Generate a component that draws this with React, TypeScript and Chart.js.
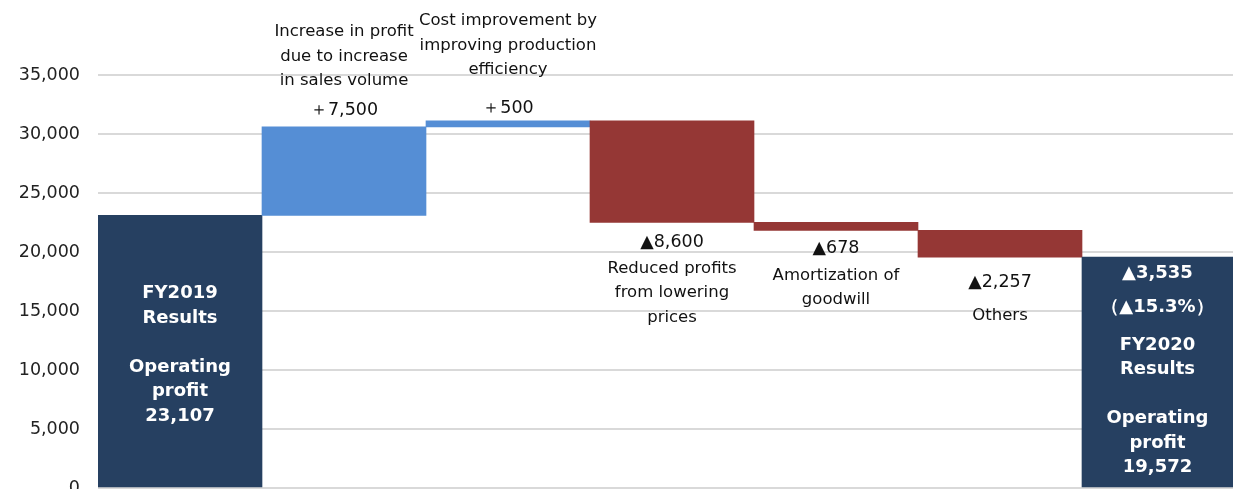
import React, { useEffect, useRef } from "react";
import { Chart, registerables } from "chart.js";

Chart.register(...registerables);

// ---------- data ----------
const categories = [
  "FY2019 Results",
  "Increase in profit due to increase in sales volume",
  "Cost improvement by improving production efficiency",
  "Reduced profits from lowering prices",
  "Amortization of goodwill",
  "Others",
  "FY2020 Results",
];
const startTotal = 23107;
const changes = [7500, 500, -8600, -678, -2257];
const endTotal = 19572;
const yTickValues = [0, 5000, 10000, 15000, 20000, 25000, 30000, 35000];

const valueLabels = ["", "＋7,500", "＋500", "▲8,600", "▲678", "▲2,257", ""];
const descLines: string[][] = [
  [],
  ["Increase in profit", "due to increase", "in sales volume"],
  ["Cost improvement by", "improving production", "efficiency"],
  ["Reduced profits", "from lowering", "prices"],
  ["Amortization of", "goodwill"],
  ["Others"],
  [],
];
const totalLines: string[][] = [
  ["FY2019", "Results", "", "Operating", "profit", "23,107"],
  [],
  [],
  [],
  [],
  [],
  ["FY2020", "Results", "", "Operating", "profit", "19,572"],
];
const totalChangeLines = ["▲3,535", "（▲15.3%）"];

// ---------- styles / layout ----------
const NAVY = "#264061";
const BLUE = "#558ED5";
const RED = "#953735";
const FONT = "'DejaVu Sans', Verdana, sans-serif";
const VIEW_W = 1233;
const CANVAS_W = 1260;
const CANVAS_H = 510;
// pixel offsets for annotation text (relative to bar top for rises, bar bottom for falls)
const valueOffset = [0, -16, -12, 20, 18, 25, 0];
const descOffset = [0, -46, -51, 46, 45, 59, 0];
const LINE_H = 24.5;
const totalBlockOffset = [78, 0, 0, 0, 0, 0, 88];
const totalChangeOffsets = [16, 50];

// build floating bars from the values
function buildBars(): [number, number][] {
  const bars: [number, number][] = [[0, startTotal]];
  let level = startTotal;
  for (const c of changes) {
    const next = level + c;
    bars.push([Math.min(level, next), Math.max(level, next)]);
    level = next;
  }
  bars.push([0, endTotal]);
  return bars;
}

const barColors = [NAVY, ...changes.map((c) => (c >= 0 ? BLUE : RED)), NAVY];

const annotationPlugin = {
  id: "waterfallLabels",
  afterDatasetsDraw(chart: any) {
    const ctx = chart.ctx as CanvasRenderingContext2D;
    const meta = chart.getDatasetMeta(0);
    ctx.save();
    ctx.textAlign = "center";
    ctx.textBaseline = "middle";
    meta.data.forEach((bar: any, i: number) => {
      const top = Math.min(bar.y, bar.base);
      const bottom = Math.max(bar.y, bar.base);
      const left = bar.x - bar.width / 2;
      const right = Math.min(bar.x + bar.width / 2, VIEW_W);
      const cx = (left + right) / 2;
      const isTotal = i === 0 || i === categories.length - 1;
      if (isTotal) {
        ctx.fillStyle = "#ffffff";
        ctx.font = `bold 18px ${FONT}`;
        if (i === categories.length - 1) {
          totalChangeLines.forEach((t, k) => ctx.fillText(t, cx, top + totalChangeOffsets[k]));
        }
        totalLines[i].forEach((t, k) => {
          if (t) ctx.fillText(t, cx, top + totalBlockOffset[i] + k * LINE_H);
        });
        return;
      }
      const rising = changes[i - 1] >= 0;
      ctx.fillStyle = "#111111";
      ctx.font = `17.5px ${FONT}`;
      if (rising) {
        ctx.fillText(valueLabels[i], cx, top + valueOffset[i]);
        ctx.font = `16.5px ${FONT}`;
        const lines = descLines[i];
        lines.forEach((t, k) => {
          const y = top + descOffset[i] - (lines.length - 1 - k) * LINE_H;
          ctx.fillText(t, cx, y);
        });
      } else {
        ctx.fillText(valueLabels[i], cx, bottom + valueOffset[i]);
        ctx.font = `16.5px ${FONT}`;
        descLines[i].forEach((t, k) => {
          ctx.fillText(t, cx, bottom + descOffset[i] + k * LINE_H);
        });
      }
    });
    ctx.restore();
  },
};

export default function App() {
  const canvasRef = useRef<HTMLCanvasElement | null>(null);

  useEffect(() => {
    if (!canvasRef.current) return;
    const chart = new Chart(canvasRef.current, {
      type: "bar",
      data: {
        labels: categories,
        datasets: [
          {
            data: buildBars() as any,
            backgroundColor: barColors,
            borderWidth: 0,
            barPercentage: 1,
            categoryPercentage: 1,
          },
        ],
      },
      options: {
        animation: false,
        responsive: false,
        layout: { padding: { top: 16, right: CANVAS_W - 1246, bottom: CANVAS_H - 488, left: 0 } },
        plugins: {
          legend: { display: false },
          tooltip: { enabled: false },
        },
        scales: {
          x: { display: false },
          y: {
            min: 0,
            max: 40000,
            border: { display: false },
            grid: {
              color: "#d9d9d9",
              lineWidth: 2,
              drawTicks: true,
              tickLength: 18,
              tickColor: "rgba(0,0,0,0)",
            },
            afterBuildTicks: (scale: any) => {
              scale.ticks = yTickValues.map((v) => ({ value: v }));
            },
            afterFit: (scale: any) => {
              scale.width = 98;
            },
            ticks: {
              padding: 0,
              color: "#222222",
              font: { family: FONT, size: 17.5 },
              callback: (v: any) => Number(v).toLocaleString("en-US"),
            },
          },
        },
      },
      plugins: [annotationPlugin],
    });
    return () => chart.destroy();
  }, []);

  return (
    <div
      style={{
        position: "fixed",
        left: 0,
        top: 0,
        width: VIEW_W,
        height: 489,
        overflow: "hidden",
        background: "#ffffff",
      }}
    >
      <canvas ref={canvasRef} width={CANVAS_W} height={CANVAS_H} style={{ display: "block" }} />
    </div>
  );
}
